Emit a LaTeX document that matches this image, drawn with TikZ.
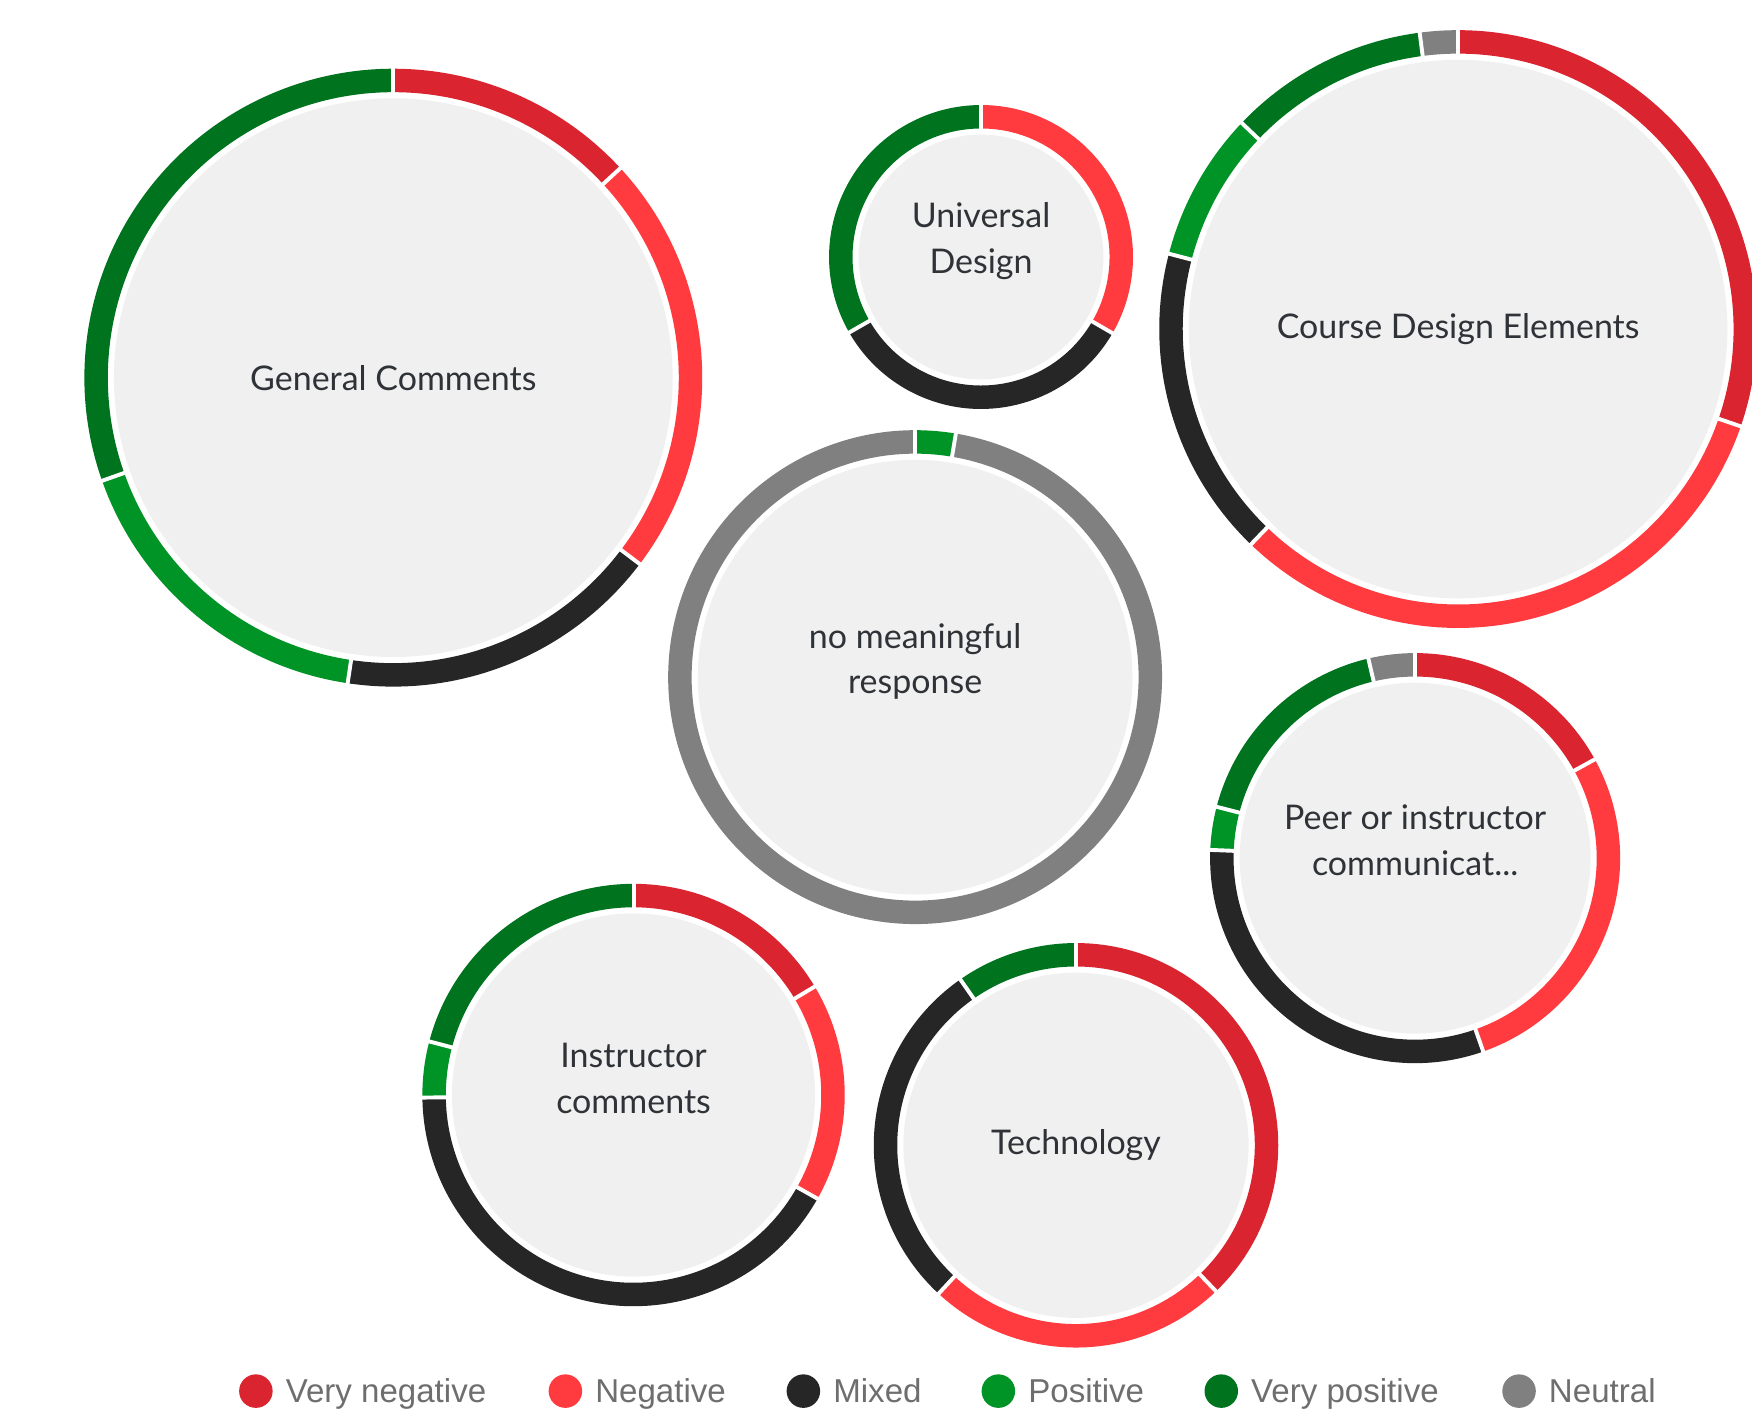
\documentclass[tikz,border=0pt]{standalone}
\usepackage{fontspec}
\setmainfont{Lato}
\newfontfamily\legendfont{Liberation Sans}
\usetikzlibrary{positioning}

\definecolor{vneg}{HTML}{DA2430}
\definecolor{neg}{HTML}{FF3B3F}
\definecolor{mixed}{HTML}{262626}
\definecolor{pos}{HTML}{009426}
\definecolor{vpos}{HTML}{00731F}
\definecolor{neutral}{HTML}{808080}
\definecolor{bubblefill}{HTML}{F0F0F0}
\definecolor{labeltext}{HTML}{2F3237}
\definecolor{legendtext}{HTML}{6E6E6E}

\tikzset{
  bubble/.style={circle, fill=bubblefill, draw=none, inner sep=0pt},
  ringseg/.style={line width=10.5pt},
  ringgap/.style={draw=white, line width=1.75pt},
  lbl/.style={align=center, text=labeltext, inner sep=0pt,
    font=\fontsize{15.2}{20.5}\selectfont},
  legdot/.style={circle, draw=none, inner sep=0pt, minimum size=15pt},
  legtext/.style={font=\legendfont\fontsize{14.8}{16}\selectfont, text=legendtext,
    inner sep=0pt, text height=10.6pt, text depth=0pt},
}

% ring of sentiment arcs round a bubble: node, outer radius, from/to/colour list
\newcommand{\donut}[3]{%
  \foreach \from/\to/\col in {#3} {
    \draw[ringseg, draw=\col] (#1.center) ++({\from-90}:{#2-10.5})
      arc[start angle={\from-90}, end angle={\to-90}, radius={#2-10.5}];
  }
  \foreach \from/\to/\col in {#3} {
    \draw[ringgap] (#1.center) ++({\from-90}:{#2-23}) -- ++({\from-90}:25);
  }
}

\begin{document}
\begin{tikzpicture}[x=0.5pt, y=-0.5pt]
  \useasboundingbox (0,0) rectangle (1568,1269);
  \fill[white] (0,0) rectangle (1568,1269);
  \clip (0,0) rectangle (1568,1269);

  % bubbles
  \node[bubble, minimum size=250pt] (gc) at (352,338) {};
  \node[bubble, minimum size=109.5pt] (ud) at (878,230) {};
  \node[bubble, minimum size=241pt] (cde) at (1305,294.5) {};
  \node[bubble, minimum size=194.5pt] (nmr) at (819,606) {};
  \node[bubble, minimum size=157pt] (pic) at (1266.5,768) {};
  \node[bubble, minimum size=162.5pt] (ic) at (567,980) {};
  \node[bubble, minimum size=154.5pt] (tech) at (963,1025) {};

  % labels
  \node[lbl] (gc-l) at (gc) {General Comments};
  \node[lbl] (ud-l) at ([yshift=7pt]ud.center) {Universal\\Design};
  \node[lbl] (cde-l) at (cde) {Course Design Elements};
  \node[lbl] (nmr-l) at ([yshift=7pt]nmr.center) {no meaningful\\response};
  \node[lbl] (pic-l) at ([yshift=8pt]pic.center) {Peer or instructor\\communicat...};
  \node[lbl] (ic-l) at ([yshift=7.5pt]ic.center) {Instructor\\comments};
  \node[lbl] (tech-l) at (tech) {Technology};

  % rings
  \donut{gc}{276.5}{0/47.3/vneg, 47.3/127.1/neg, 127.1/188.5/mixed, 188.5/250.5/pos, 250.5/360/vpos}
  \donut{ud}{136}{0/120.1/neg, 120.1/240.2/mixed, 240.2/360/vpos}
  \donut{cde}{267.5}{0/109/vneg, 109/223.9/neg, 223.9/284.6/mixed, 284.6/313.6/pos, 313.6/352.6/vpos, 352.6/360/neutral}
  \donut{nmr}{221}{0/9.5/pos, 9.5/360/neutral}
  \donut{pic}{183.5}{0/61.2/vneg, 61.2/160.6/neg, 160.6/272.3/mixed, 272.3/284.5/pos, 284.5/346.8/vpos, 346.8/360/neutral}
  \donut{ic}{189}{0/59.1/vneg, 59.1/119.4/neg, 119.4/269.3/mixed, 269.3/284.7/pos, 284.7/360/vpos}
  \donut{tech}{181}{0/136.2/vneg, 136.2/222.8/neg, 222.8/325.1/mixed, 325.1/360/vpos}

  % legend
  \foreach \x/\col/\txt [count=\i] in {229/vneg/Very negative, 506/neg/Negative,
      719/mixed/Mixed, 893.5/pos/Positive, 1093/vpos/Very positive, 1359.5/neutral/Neutral} {
    \node[legdot, fill=\col] (dot\i) at (\x,1245) {};
    \node[legtext, right=5.5pt of dot\i] (leg\i) {\txt};
  }
\end{tikzpicture}
\end{document}
